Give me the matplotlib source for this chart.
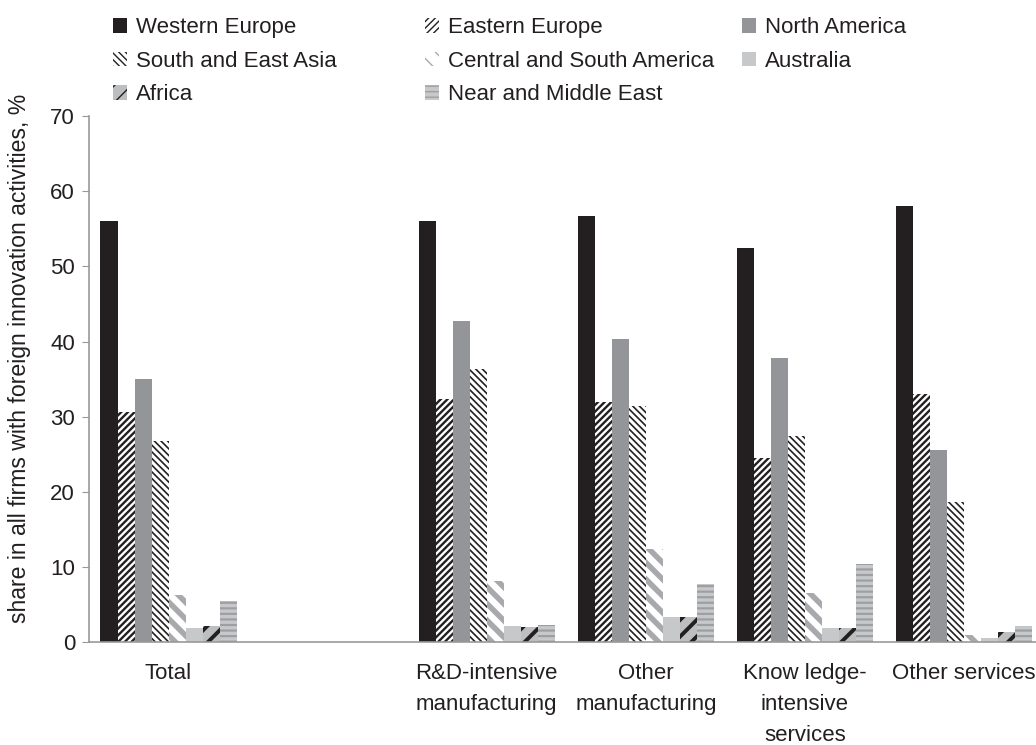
import matplotlib
matplotlib.use("Agg")
import matplotlib.pyplot as plt
import numpy as np

plt.rcParams['font.family'] = ['Liberation Sans', 'DejaVu Sans']

# --- DATA ---
categories = ["Total", "", "R&D-intensive\nmanufacturing", "Other\nmanufacturing",
              "Know ledge-\nintensive\nservices", "Other services"]
regions = ["Western Europe", "Eastern Europe", "North America", "South and East Asia",
           "Central and South America", "Australia", "Africa", "Near and Middle East"]

western_europe = [56.0, np.nan, 56.1, 56.7, 52.5, 58.0]
eastern_europe = [30.6, np.nan, 32.3, 32.0, 24.5, 33.0]
north_america = [35.0, np.nan, 42.8, 40.3, 37.8, 25.6]
south_east_asia = [26.8, np.nan, 36.4, 31.5, 27.4, 18.7]
central_south_am = [6.3, np.nan, 8.2, 12.4, 6.6, 1.0]
australia = [1.9, np.nan, 2.2, 3.4, 1.95, 0.5]
africa = [2.2, np.nan, 2.0, 3.4, 1.95, 1.3]
near_middle_east = [5.5, np.nan, 2.3, 7.7, 10.45, 2.2]

series = [western_europe, eastern_europe, north_america, south_east_asia,
          central_south_am, australia, africa, near_middle_east]

# kiểu từng chuỗi: màu nền, hatch, màu hatch, độ dày hatch
styles = [
    ("#231f20", None, "#231f20", 1.0),
    ("white", "/////", "#231f20", 1.7),
    ("#939598", None, "#939598", 1.0),
    ("white", "\\\\\\\\\\", "#231f20", 1.2),
    ("white", "\\\\", "#a7a9ac", 4.0),
    ("#c7c8ca", None, "#c7c8ca", 1.0),
    ("#bcbec0", "//", "#231f20", 2.8),
    ("#c7c8ca", "---", "#9d9fa2", 1.6),
]

TXT = "#231f20"
FS = 16

fig = plt.figure(figsize=(10.36, 7.45), dpi=100)
ax = fig.add_axes([0.0859, 0.138, 0.9214, 0.706])

x = np.arange(len(categories))
n = len(series)
bw = 136 / 159 / n

handles = []
for i, (vals, (fc, hatch, hc, hlw)) in enumerate(zip(series, styles)):
    with plt.rc_context({'hatch.linewidth': hlw}):
        b = ax.bar(x - 0.5 + (1 - n * bw) / 2 + bw * (i + 0.5), vals, width=bw,
                   color=fc, edgecolor=hc, hatch=hatch, linewidth=0,
                   label=regions[i])
    handles.append(b)

ax.set_xlim(-0.5, len(categories) - 0.5)
ax.set_ylim(0, 70)
ax.set_yticks(range(0, 71, 10))
ax.set_xticks(x)
ax.set_xticklabels(categories, fontsize=FS, linespacing=1.62, color=TXT)
ax.tick_params(axis='x', length=0, pad=15)
ax.tick_params(axis='y', labelsize=FS, colors=TXT, length=5, color="#999999", pad=5)
ax.set_ylabel("share in all firms with foreign innovation activities, %",
              fontsize=16.6, color=TXT)
ax.yaxis.set_label_coords(-0.061, 0.54)

for s in ['top', 'right']:
    ax.spines[s].set_visible(False)
for s in ['left', 'bottom']:
    ax.spines[s].set_color("#999999")
    ax.spines[s].set_linewidth(1.2)

# chú thích: 3 cột đặt tay
columns = [[0, 3, 6], [1, 4, 7], [2, 5]]
col_x = [113, 425, 742]
for idx, cx in zip(columns, col_x):
    leg = fig.legend([handles[k] for k in idx], [regions[k] for k in idx],
                     ncol=1, frameon=False, fontsize=FS,
                     loc='upper left', bbox_to_anchor=(cx / 1036, 0.977),
                     borderpad=0, borderaxespad=0,
                     handlelength=0.65, handleheight=0.65, handletextpad=0.4,
                     labelspacing=0.57)
    for t in leg.get_texts():
        t.set_color(TXT)

fig.savefig("out.png", dpi=100)
